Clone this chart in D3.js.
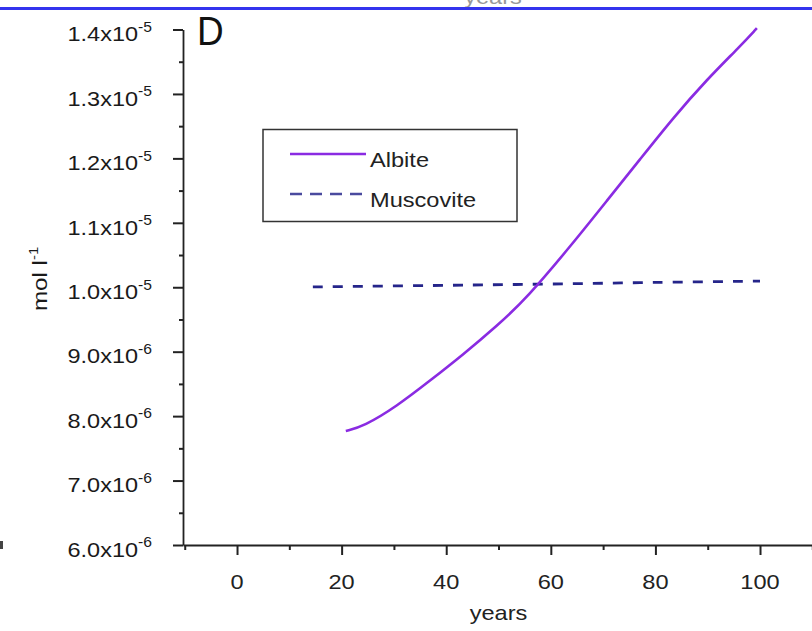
<!DOCTYPE html>
<html><head><meta charset="utf-8">
<script src="https://cdn.jsdelivr.net/npm/d3@7"></script>
<style>html,body{margin:0;padding:0;background:#fff;}svg{display:block;}text{font-family:"Liberation Sans",Arial,sans-serif;}</style>
</head><body>
<svg id="c" width="812" height="631"></svg>
<script>
// ---- data ----
const albiteYears  = [20.8, 24.2, 30.5, 36.9, 43.3, 49.7, 55.4, 64.3, 70.7, 77.1, 83.4, 89.8, 96.2, 99.4];
const albiteValues = [7.77e-6, 7.84e-6, 8.15e-6, 8.55e-6, 8.96e-6, 9.40e-6, 9.83e-6, 10.69e-6, 11.34e-6, 11.99e-6, 12.63e-6, 13.22e-6, 13.74e-6, 14.02e-6];
const muscoviteYears  = [14.5, 40, 60, 80, 100];
const muscoviteValues = [10.005e-6, 10.03e-6, 10.05e-6, 10.075e-6, 10.095e-6];
const xTicks = [0, 20, 40, 60, 80, 100];
const xMinorTicks = [-10, 10, 30, 50, 70, 90, 110];
const yTickMantissa = ["6.0", "7.0", "8.0", "9.0", "1.0", "1.1", "1.2", "1.3", "1.4"];
const yTickExp = ["-6", "-6", "-6", "-6", "-5", "-5", "-5", "-5", "-5"];
const yTicks = [6e-6, 7e-6, 8e-6, 9e-6, 1.0e-5, 1.1e-5, 1.2e-5, 1.3e-5, 1.4e-5];
const yMinorTicks = [6.5e-6, 7.5e-6, 8.5e-6, 9.5e-6, 1.05e-5, 1.15e-5, 1.25e-5, 1.35e-5];
const seriesNames = ["Albite", "Muscovite"];
const panelLabel = "D";
const xTitle = "years";

// ---- layout ----
const svg = d3.select("#c");
const SX = 1.18;
const x = d3.scaleLinear().domain([-10.33, 109.94]).range([183, 812]);
const y = d3.scaleLinear().domain([6e-6, 1.4e-5]).range([545, 29.5]);
const axisColor = "#222";
const albiteColor = "#8a2be2";
const muscColor = "#25258a";

// top strip from previous panel
svg.append("text").attr("transform", "translate(493,4) scale(" + SX + ",1)")
  .attr("text-anchor", "middle").attr("font-size", 20).attr("fill", "#999").text(xTitle);
svg.append("rect").attr("x", 0).attr("y", 7).attr("width", 812).attr("height", 3).attr("fill", "#3434ee");
svg.append("rect").attr("x", 0).attr("y", 541).attr("width", 3).attr("height", 8).attr("fill", "#444");

// axes
const gx = svg.append("g").attr("transform", "translate(0,545)")
  .call(d3.axisBottom(x).tickValues(xTicks).tickSize(10).tickSizeOuter(0).tickFormat(""));
const gxm = svg.append("g").attr("transform", "translate(0,545)")
  .call(d3.axisBottom(x).tickValues(xMinorTicks).tickSize(5).tickSizeOuter(0).tickFormat(""));
gxm.select(".domain").remove();
const gy = svg.append("g").attr("transform", "translate(183,0)")
  .call(d3.axisLeft(y).tickValues(yTicks).tickSize(10).tickSizeOuter(0).tickFormat(""));
const gym = svg.append("g").attr("transform", "translate(183,0)")
  .call(d3.axisLeft(y).tickValues(yMinorTicks).tickSize(4).tickSizeOuter(0).tickFormat(""));
gym.select(".domain").remove();
svg.selectAll(".domain").attr("stroke", axisColor).attr("stroke-width", 1.8);
svg.selectAll(".tick line").attr("stroke", axisColor).attr("stroke-width", 2);

// x tick labels
xTicks.forEach(t => {
  svg.append("text").attr("transform", "translate(" + x(t) + ",589) scale(" + SX + ",1)")
    .attr("text-anchor", "middle").attr("font-size", 20).attr("fill", "#222").text(t);
});
svg.append("text").attr("transform", "translate(" + x(50) + ",620) scale(" + SX + ",1)")
  .attr("text-anchor", "middle").attr("font-size", 20).attr("fill", "#222").text(xTitle);

// y tick labels
yTicks.forEach((t, i) => {
  const tx = svg.append("text").attr("transform", "translate(152," + (y(t) + 11.8) + ") scale(1.12,1)")
    .attr("text-anchor", "end").attr("font-size", 21).attr("fill", "#1a1a1a");
  tx.append("tspan").text(yTickMantissa[i] + "x10");
  tx.append("tspan").attr("dy", -9.5).attr("font-size", 14).text(yTickExp[i]);
});

// y title
const yt = svg.append("text").attr("transform", "translate(47,311) rotate(-90) scale(1.15,1)")
  .attr("text-anchor", "start").attr("font-size", 21).attr("fill", "#1a1a1a");
yt.append("tspan").text("mol l");
yt.append("tspan").attr("dy", -9).attr("font-size", 13).text("-1");

// panel label
svg.append("text").attr("transform", "translate(197,45) scale(0.9,1)")
  .attr("font-size", 41).attr("fill", "#111").text(panelLabel);

// lines
const line = d3.line().x(d => x(d[0])).y(d => y(d[1]));
svg.append("path").datum(muscoviteYears.map((v, i) => [v, muscoviteValues[i]]))
  .attr("d", line.curve(d3.curveCatmullRom)).attr("fill", "none").attr("stroke", muscColor).attr("stroke-width", 2.8)
  .attr("stroke-dasharray", "10,10");
svg.append("path").datum(albiteYears.map((v, i) => [v, albiteValues[i]]))
  .attr("d", line.curve(d3.curveBasis)).attr("fill", "none").attr("stroke", albiteColor).attr("stroke-width", 2.6);

// legend
svg.append("rect").attr("x", 263).attr("y", 129.5).attr("width", 254).attr("height", 92)
  .attr("fill", "#fff").attr("stroke", "#333").attr("stroke-width", 1.5);
const legY = [154, 194];
const legCol = [albiteColor, "#4a4a9e"];
const legDash = [null, "12,8"];
seriesNames.forEach((n, i) => {
  const l = svg.append("line").attr("x1", 290).attr("x2", 366).attr("y1", legY[i]).attr("y2", legY[i])
    .attr("stroke", legCol[i]).attr("stroke-width", 2.6);
  if (legDash[i]) l.attr("stroke-dasharray", legDash[i]);
  svg.append("text").attr("transform", "translate(370," + (legY[i] + 13) + ") scale(" + SX + ",1)")
    .attr("font-size", 20).attr("fill", "#222").text(n);
});
</script>
</body></html>
